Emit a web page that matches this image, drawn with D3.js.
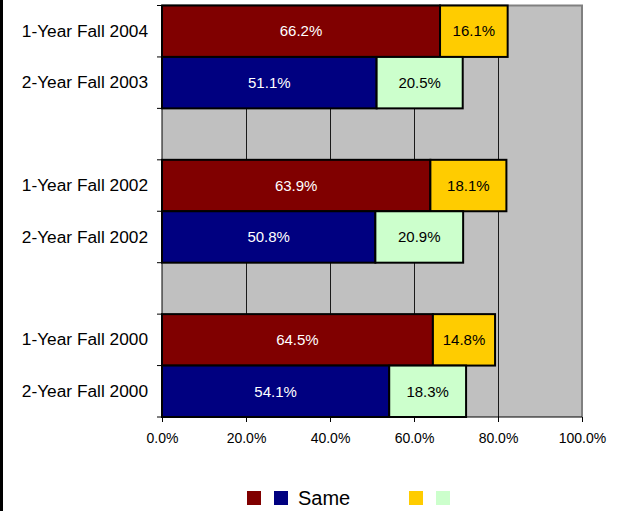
<!DOCTYPE html>
<html>
<head>
<meta charset="utf-8">
<script src="https://cdn.jsdelivr.net/npm/d3@7"></script>
<style>
body { margin:0; background:#fff; }
text { font-family: "Liberation Sans", Arial, sans-serif; }
</style>
</head>
<body>
<div id="chart"></div>
<script>
// rows, top to bottom ("" = empty spacer row)
var categories = ["1-Year Fall 2004","2-Year Fall 2003","","1-Year Fall 2002","2-Year Fall 2002","","1-Year Fall 2000","2-Year Fall 2000"]
var sameValues = [66.2, 51.1, null, 63.9, 50.8, null, 64.5, 54.1]
var otherValues = [16.1, 20.5, null, 18.1, 20.9, null, 14.8, 18.3]
var xTicks = [0, 20, 40, 60, 80, 100]
var legendLabel = "Same"

var width = 617, height = 511
var pLeft = 162, pRight = 582, pTop = 5.5, pBottom = 417

var svg = d3.select("#chart").append("svg")
    .attr("width", width)
    .attr("height", height)

// black strip on the left edge
svg.append("rect").attr("x",0).attr("y",0).attr("width",3).attr("height",height).attr("fill","#000")

var x = d3.scaleLinear().domain([0,100]).range([pLeft,pRight])
var y = d3.scaleBand().domain(d3.range(categories.length)).range([pTop,pBottom]).padding(0)

function sameColor(i){ return categories[i].indexOf("1-Year")==0 ? "#800000" : "#000080" }
function otherColor(i){ return categories[i].indexOf("1-Year")==0 ? "#ffcc00" : "#ccffcc" }

// plot area
svg.append("rect").attr("x",pLeft).attr("y",pTop).attr("width",pRight-pLeft).attr("height",pBottom-pTop).attr("fill","#c0c0c0")
svg.selectAll("line.grid").data(xTicks.slice(1,-1)).enter().append("line")
    .attr("class","grid")
    .attr("x1", function(d){ return Math.round(x(d))+0.5 }).attr("x2", function(d){ return Math.round(x(d))+0.5 })
    .attr("y1", pTop).attr("y2", pBottom)
    .attr("stroke","#1a1a1a").attr("stroke-width",1)
svg.append("path")
    .attr("d","M"+pLeft+","+pTop+"H"+pRight+"V"+pBottom)
    .attr("fill","none").attr("stroke","#808080").attr("stroke-width",2)

var rows = d3.range(categories.length).filter(function(i){ return sameValues[i] != null })

// "Same" segment
svg.selectAll("rect.same").data(rows).enter().append("rect")
    .attr("class","same")
    .attr("x", x(0))
    .attr("y", function(i){ return y(i) })
    .attr("width", function(i){ return x(sameValues[i]) - x(0) })
    .attr("height", y.bandwidth())
    .attr("fill", sameColor)
    .attr("stroke","#000").attr("stroke-width",2)

// second segment
svg.selectAll("rect.other").data(rows).enter().append("rect")
    .attr("class","other")
    .attr("x", function(i){ return x(sameValues[i]) })
    .attr("y", function(i){ return y(i) })
    .attr("width", function(i){ return x(sameValues[i]+otherValues[i]) - x(sameValues[i]) })
    .attr("height", y.bandwidth())
    .attr("fill", otherColor)
    .attr("stroke","#000").attr("stroke-width",2)

// labels
svg.selectAll("text.lsame").data(rows).enter().append("text")
    .attr("x", function(i){ return x(sameValues[i]/2) })
    .attr("y", function(i){ return y(i) + y.bandwidth()/2 })
    .attr("dy","0.35em").attr("text-anchor","middle")
    .attr("font-size","15px").attr("fill","#fff")
    .text(function(i){ return sameValues[i].toFixed(1)+"%" })
svg.selectAll("text.lother").data(rows).enter().append("text")
    .attr("x", function(i){ return x(sameValues[i] + otherValues[i]/2) })
    .attr("y", function(i){ return y(i) + y.bandwidth()/2 })
    .attr("dy","0.35em").attr("text-anchor","middle")
    .attr("font-size","15px").attr("fill","#000")
    .text(function(i){ return otherValues[i].toFixed(1)+"%" })

// x axis
var xAxis = svg.append("g")
    .attr("transform","translate(0,"+pBottom+")")
    .call(d3.axisBottom(x).tickValues(xTicks).tickSize(5).tickPadding(11)
        .tickFormat(function(d){ return d.toFixed(1)+"%" }))
xAxis.select(".domain").attr("stroke","#000").attr("d","M"+pLeft+",0H"+pRight)
xAxis.selectAll("text").attr("font-size","14px").attr("font-family","Liberation Sans, Arial, sans-serif").attr("fill","#000")
xAxis.selectAll("line").attr("stroke","#000")

// y axis
var yAxis = svg.append("g")
    .attr("transform","translate("+pLeft+",0)")
    .call(d3.axisLeft(y).tickSize(0).tickPadding(14).tickFormat(function(i){ return categories[i] }))
yAxis.select(".domain").attr("stroke","#000").attr("d","M0,"+pTop+"V"+pBottom)
yAxis.selectAll("text").attr("font-size","17.3px").attr("font-family","Liberation Sans, Arial, sans-serif").attr("fill","#000")
var bounds = d3.range(categories.length).map(function(i){ return y(i) }).concat([pBottom])
svg.selectAll("line.ytick").data(bounds).enter().append("line")
    .attr("x1", pLeft-5).attr("x2", pLeft)
    .attr("y1", function(d){ return d }).attr("y2", function(d){ return d })
    .attr("stroke","#000")

// legend
var legend = svg.append("g")
legend.append("rect").attr("x",247).attr("y",491).attr("width",14).attr("height",14).attr("fill","#800000")
legend.append("rect").attr("x",274).attr("y",491).attr("width",14).attr("height",14).attr("fill","#000080")
legend.append("text").attr("x",298).attr("y",505).attr("font-size","20px").attr("fill","#000").text(legendLabel)
legend.append("rect").attr("x",409).attr("y",491).attr("width",14).attr("height",14).attr("fill","#ffcc00")
legend.append("rect").attr("x",436).attr("y",491).attr("width",14).attr("height",14).attr("fill","#ccffcc")
</script>
</body>
</html>
